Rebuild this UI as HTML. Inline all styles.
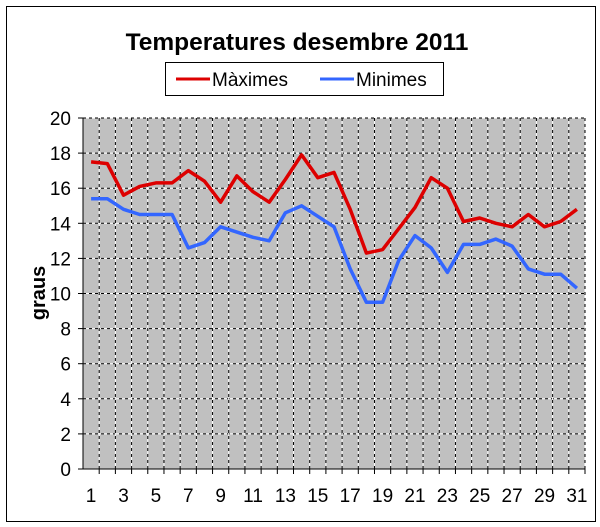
<!DOCTYPE html>
<html><head><meta charset="utf-8"><style>
html,body{margin:0;padding:0;background:#fff;}
svg{display:block;font-family:"Liberation Sans",Arial,sans-serif;}
</style></head><body>
<svg width="600" height="527" viewBox="0 0 600 527" xmlns="http://www.w3.org/2000/svg">
<rect x="0" y="0" width="600" height="527" fill="#fff"/>
<rect x="6.5" y="6.5" width="589" height="515" fill="#fff" stroke="#000" stroke-width="1"/>
<text x="297" y="50" font-size="24.5" font-weight="bold" text-anchor="middle">Temperatures desembre 2011</text>
<rect x="165.5" y="62.5" width="278" height="33" fill="#fff" stroke="#000" stroke-width="1"/>
<line x1="176" y1="79" x2="210" y2="79" stroke="#dd0000" stroke-width="3"/>
<text x="212" y="86" font-size="19">Màximes</text>
<line x1="320" y1="79" x2="354" y2="79" stroke="#3366ff" stroke-width="3"/>
<text x="356" y="86" font-size="19">Minimes</text>
<rect x="83" y="118" width="502" height="351" fill="#c0c0c0"/>
<g id="grid"></g>
<line x1="83" y1="118" x2="83" y2="469" stroke="#000"/>
<line x1="83" y1="469" x2="585" y2="469" stroke="#000"/>
<g id="axis" font-size="19"></g>
<text transform="translate(45,293) rotate(-90)" font-size="20" font-weight="bold" text-anchor="middle">graus</text>
<polyline id="mx" fill="none" stroke="#dd0000" stroke-width="3.5" stroke-linejoin="round"/>
<polyline id="mn" fill="none" stroke="#3366ff" stroke-width="3.5" stroke-linejoin="round"/>
</svg>
<script>
var ns="http://www.w3.org/2000/svg";
function el(t,a,p,txt){var e=document.createElementNS(ns,t);for(var k in a)e.setAttribute(k,a[k]);if(txt!=null)e.textContent=txt;p.appendChild(e);return e;}
var g=document.getElementById('grid'),ax=document.getElementById('axis');
var L=83,R=585,T=118,B=469,w=(R-L)/31,u=(B-T)/20;
function Y(v){return B-v*u;}
for(var k=1;k<=10;k++){var y=Y(2*k);
 el('line',{x1:L,y1:y,x2:R,y2:y,stroke:'#fff','stroke-width':1},g);
 el('line',{x1:L,y1:y,x2:R,y2:y,stroke:'#000','stroke-width':1,'stroke-dasharray':'3,3'},g);}
for(var i=1;i<=31;i++){var x=L+i*w;
 el('line',{x1:x,y1:T,x2:x,y2:B,stroke:'#fff','stroke-width':1},g);
 el('line',{x1:x,y1:T,x2:x,y2:B,stroke:'#000','stroke-width':1,'stroke-dasharray':'3,3'},g);
 el('line',{x1:x,y1:B,x2:x,y2:B+5,stroke:'#000'},ax);}
for(var k=0;k<=10;k++){var y=Y(2*k);
 el('line',{x1:L-5,y1:y,x2:L,y2:y,stroke:'#000'},ax);
 el('text',{x:L-12,y:y+7,'text-anchor':'end'},ax,String(2*k));}
for(var i=1;i<=31;i+=2){el('text',{x:L+(i-0.5)*w,y:B+33,'text-anchor':'middle'},ax,String(i));}
var mx=[17.5,17.4,15.6,16.1,16.3,16.3,17.0,16.4,15.2,16.7,15.8,15.2,16.5,17.9,16.6,16.9,14.8,12.3,12.5,13.7,14.9,16.6,16.0,14.1,14.3,14.0,13.8,14.5,13.8,14.1,14.8];
var mn=[15.4,15.4,14.8,14.5,14.5,14.5,12.6,12.9,13.8,13.5,13.2,13.0,14.6,15.0,14.4,13.8,11.4,9.5,9.5,11.9,13.3,12.6,11.2,12.8,12.8,13.1,12.7,11.4,11.1,11.1,10.3];
function pts(a){return a.map(function(v,i){return (L+(i+0.5)*w).toFixed(1)+','+Y(v).toFixed(1);}).join(' ');}
document.getElementById('mx').setAttribute('points',pts(mx));
document.getElementById('mn').setAttribute('points',pts(mn));
</script>
</body></html>
